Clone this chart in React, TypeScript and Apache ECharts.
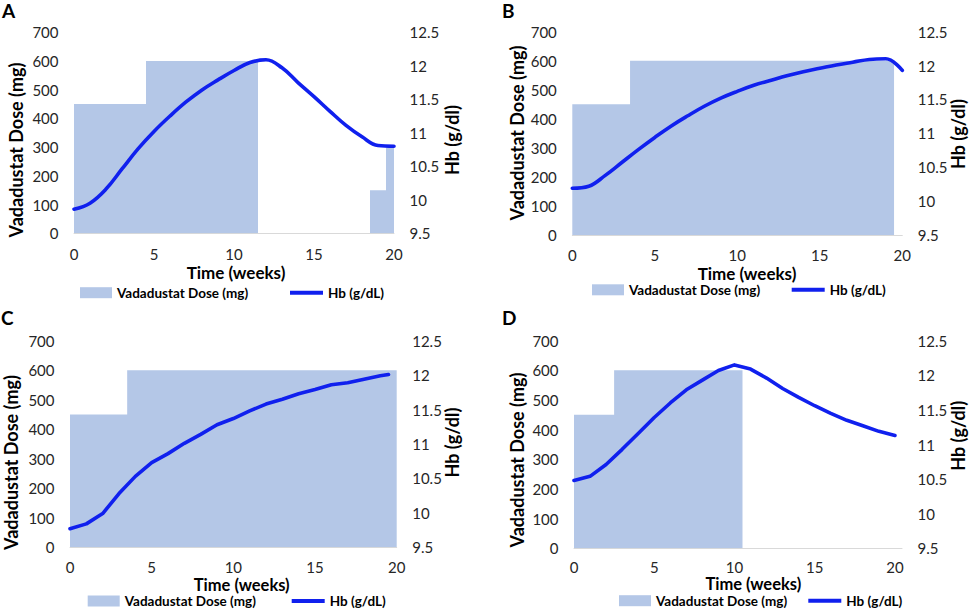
import React, { useEffect, useRef } from "react";
import * as echarts from "echarts";

const weeks = [0, 1, 2, 3, 4, 5, 6, 7, 8, 9, 10, 11, 12, 13, 14, 15, 16, 17, 18, 19, 20];
const hbWeeksC = [0, 1, 2, 3, 4, 5, 6, 7, 8, 9, 10, 11, 12, 13, 14, 15, 16, 17, 18, 19, 19.5];

const doseA = [450, 450, 450, 450, 450, 600, 600, 600, 600, 600, 600, 600, 0, 0, 0, 0, 0, 0, 0, 150, 300];
const doseB = [450, 450, 450, 450, 600, 600, 600, 600, 600, 600, 600, 600, 600, 600, 600, 600, 600, 600, 600, 600, 0];
const doseC = [450, 450, 450, 450, 600, 600, 600, 600, 600, 600, 600, 600, 600, 600, 600, 600, 600, 600, 600, 600, 600];
const doseD = [450, 450, 450, 600, 600, 600, 600, 600, 600, 600, 600, 0, 0, 0, 0, 0, 0, 0, 0, 0, 0];

const hbA = [9.86, 9.95, 10.16, 10.46, 10.76, 11.02, 11.25, 11.46, 11.64, 11.79, 11.93, 12.05, 12.09, 11.97, 11.75, 11.54, 11.32, 11.11, 10.94, 10.81, 10.8];
const hbB = [10.19, 10.22, 10.38, 10.57, 10.76, 10.94, 11.11, 11.26, 11.4, 11.52, 11.62, 11.71, 11.78, 11.85, 11.91, 11.96, 12.01, 12.05, 12.09, 12.1, 11.93];
const hbC = [9.77, 9.84, 9.99, 10.28, 10.53, 10.73, 10.86, 11.01, 11.14, 11.28, 11.37, 11.48, 11.58, 11.65, 11.73, 11.79, 11.86, 11.89, 11.94, 11.99, 12.01];
const hbD = [10.48, 10.54, 10.71, 10.93, 11.16, 11.39, 11.6, 11.79, 11.93, 12.07, 12.15, 12.09, 11.96, 11.81, 11.68, 11.56, 11.45, 11.35, 11.27, 11.19, 11.13];

const doseName = "Vadadustat Dose (mg)";
const hbName = "Hb (g/dL)";
const xTitle = "Time (weeks)";
const yTitle = "Vadadustat Dose (mg)";
const rTitle = "Hb (g/dl)";

const FONT = "Lato";
const DOSE_COLOR = "#b4c7e7";
const HB_COLOR = "#1020ee";

const panels = [
  {
    letter: "A", dose: doseA, hb: hbA, hbWeeks: weeks, smooth: true, xMax: 20,
    grid: { left: 74, top: 32.3, width: 320, height: 201 },
    letterPos: [2, 1], yT: [16, 150], rT: [452, 140], xT: [236, 272], xTSize: 17, tickMargin: 13,
    legDose: [80, 292.7], legHb: [290, 292.7],
  },
  {
    letter: "B", dose: doseB, hb: hbB, hbWeeks: weeks, smooth: true, xMax: 20,
    grid: { left: 572.3, top: 31.7, width: 330, height: 203.3 },
    letterPos: [502, 1], yT: [516.7, 133], rT: [958, 134], xT: [747, 273.5], xTSize: 17, tickMargin: 12,
    legDose: [592, 289.8], legHb: [791.7, 289.8],
  },
  {
    letter: "C", dose: doseC, hb: hbC, hbWeeks: hbWeeksC, smooth: false, xMax: 20,
    grid: { left: 70, top: 340.7, width: 326.7, height: 206.6 },
    letterPos: [1, 308], yT: [11, 462.5], rT: [451.7, 442.5], xT: [241.7, 584.5], xTSize: 16.5, tickMargin: 12,
    legDose: [87.7, 601], legHb: [291.7, 601],
  },
  {
    letter: "D", dose: doseD, hb: hbD, hbWeeks: weeks, smooth: false, xMax: 20.44,
    grid: { left: 574, top: 340.7, width: 328, height: 207.6 },
    letterPos: [502, 308], yT: [516.7, 460], rT: [958.3, 435.8], xT: [753.3, 584.3], xTSize: 16.5, tickMargin: 11,
    legDose: [619, 600.7], legHb: [808.3, 600.7],
  },
];

function txt(text: string, x: number, y: number, size: number, rotate: boolean, align = "center", vAlign = "middle") {
  return {
    type: "text",
    x,
    y,
    rotation: rotate ? Math.PI / 2 : 0,
    silent: true,
    style: {
      text,
      fill: "#000",
      font: `bold ${size}px ${FONT}`,
      lineHeight: size,
      align,
      verticalAlign: vAlign,
      textAlign: align,
      textVerticalAlign: vAlign,
    },
  };
}

export default function App() {
  const ref = useRef<HTMLDivElement>(null);

  useEffect(() => {
    if (!ref.current) return;
    const chart = echarts.init(ref.current, undefined, { renderer: "svg" });

    const grid: any[] = [];
    const xAxis: any[] = [];
    const yAxis: any[] = [];
    const series: any[] = [];
    const legend: any[] = [];
    const graphic: any[] = [];

    const tickLabel = { fontFamily: FONT, fontSize: 15, lineHeight: 15, color: "#262626" };

    panels.forEach((p, i) => {
      grid.push({ ...p.grid, containLabel: false });
      xAxis.push({
        type: "value",
        gridIndex: i,
        min: 0,
        max: p.xMax,
        interval: 5,
        axisLine: { show: true, lineStyle: { color: "#d9d9d9", width: 1 } },
        axisTick: { show: false },
        splitLine: { show: false },
        axisLabel: { ...tickLabel, margin: p.tickMargin, showMaxLabel: p.xMax === 20 },
      });
      yAxis.push({
        type: "value",
        gridIndex: i,
        position: "left",
        min: 0,
        max: 700,
        interval: 100,
        axisLine: { show: false },
        axisTick: { show: false },
        splitLine: { show: false },
        axisLabel: { ...tickLabel, margin: 15.5 },
      });
      yAxis.push({
        type: "value",
        gridIndex: i,
        position: "right",
        min: 9.5,
        max: 12.5,
        interval: 0.5,
        axisLine: { show: false },
        axisTick: { show: false },
        splitLine: { show: false },
        axisLabel: { ...tickLabel, margin: 15.5 },
      });
      series.push({
        name: doseName,
        type: "line",
        xAxisIndex: i,
        yAxisIndex: i * 2,
        step: "middle",
        symbol: "none",
        color: DOSE_COLOR,
        lineStyle: { width: 0, color: DOSE_COLOR },
        areaStyle: { color: DOSE_COLOR, opacity: 1 },
        data: weeks.map((w, k) => [w, p.dose[k]]),
        z: 1,
      });
      series.push({
        name: hbName,
        type: "line",
        xAxisIndex: i,
        yAxisIndex: i * 2 + 1,
        smooth: p.smooth ? 0.4 : false,
        symbol: "none",
        color: HB_COLOR,
        lineStyle: { width: 3.6, color: HB_COLOR, cap: "round", join: "round" },
        data: p.hbWeeks.map((w, k) => [w, p.hb[k]]),
        z: 3,
      });
      const legText = { fontFamily: FONT, fontWeight: "bold", fontSize: 13.5, lineHeight: 14, color: "#000" };
      legend.push({
        data: [doseName],
        left: p.legDose[0],
        top: p.legDose[1] - 7,
        padding: 0,
        icon: "rect",
        itemWidth: 32,
        itemHeight: 11,
        selectedMode: false,
        textStyle: legText,
      });
      legend.push({
        data: [hbName],
        left: p.legHb[0],
        top: p.legHb[1] - 7,
        padding: 0,
        icon: "rect",
        itemWidth: 33,
        itemHeight: 4,
        selectedMode: false,
        textStyle: legText,
      });
      graphic.push(txt(p.letter, p.letterPos[0], p.letterPos[1], 19, false, "left", "top"));
      graphic.push(txt(yTitle, p.yT[0], p.yT[1], 18, true));
      graphic.push(txt(rTitle, p.rT[0], p.rT[1], 18, true));
      graphic.push(txt(xTitle, p.xT[0], p.xT[1], p.xTSize, false));
    });

    chart.setOption({
      animation: false,
      backgroundColor: "#fff",
      textStyle: { fontFamily: FONT },
      grid,
      xAxis,
      yAxis,
      series,
      legend,
      graphic,
    });

    return () => chart.dispose();
  }, []);

  return (
    <div
      ref={ref}
      style={{ position: "fixed", left: 0, top: 0, width: 969, height: 610, background: "#fff" }}
    />
  );
}
